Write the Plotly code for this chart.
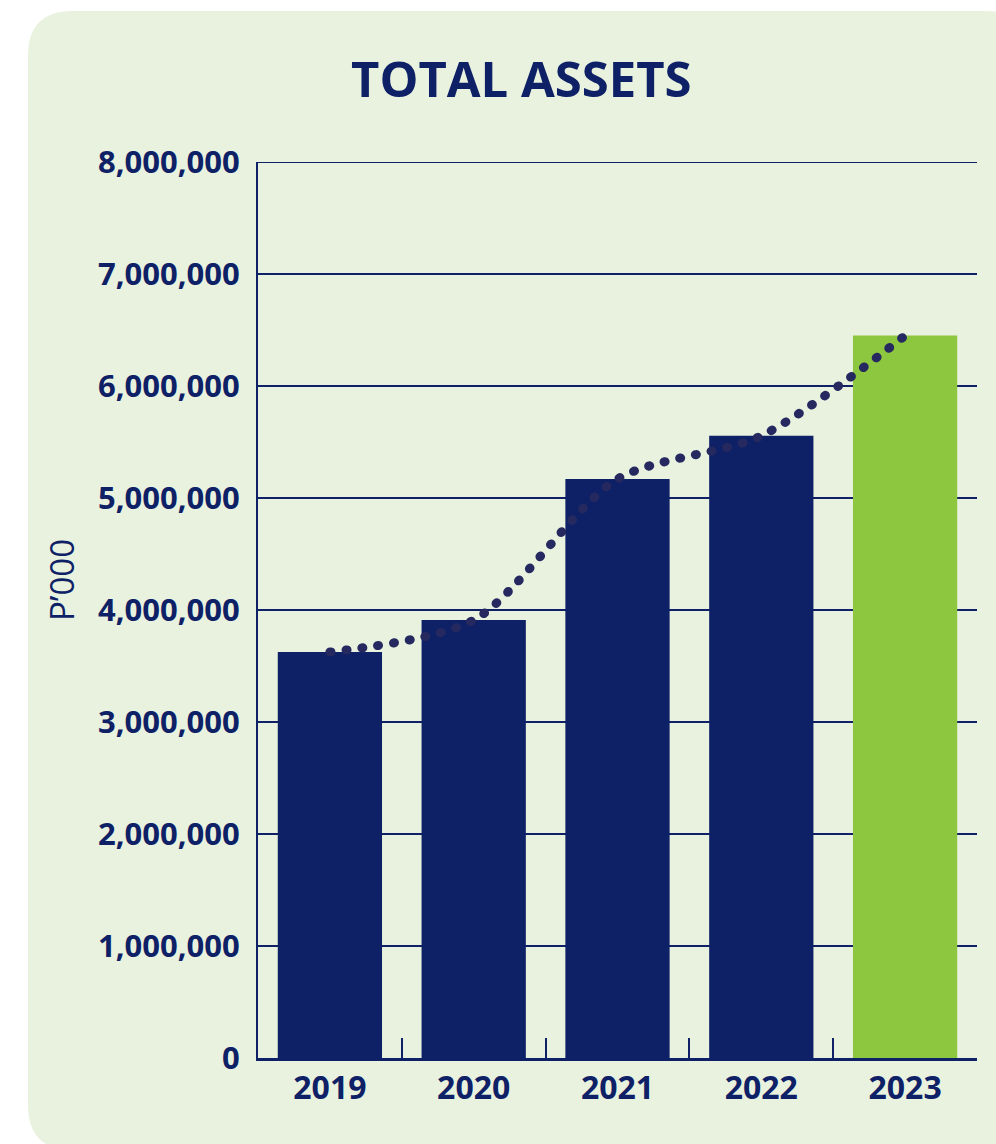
import plotly.graph_objects as go

years = ["2019", "2020", "2021", "2022", "2023"]
total_assets = [3625000, 3910000, 5170000, 5555000, 6450000]
bar_colors = ["#0E2166", "#0E2166", "#0E2166", "#0E2166", "#8DC63F"]
y_ticks = [0, 1000000, 2000000, 3000000, 4000000, 5000000, 6000000, 7000000, 8000000]

NAVY = "#0E2166"
FONT = "Open Sans"

W, H = 996, 1144
L, R, T, B = 258, 19, 162, 86
pw, ph = W - L - R, H - T - B

def px_x(p):
    return (p - L) / pw

def px_y(p):
    return (H - B - p) / ph

fig = go.Figure()
fig.add_trace(go.Bar(
    x=years, y=total_assets, marker=dict(color=bar_colors, line=dict(width=0)),
    hoverinfo="x+y", showlegend=False,
))
fig.add_trace(go.Scatter(
    x=years, y=total_assets, mode="lines",
    line=dict(color="#25295F", width=9, dash="1px,15px", shape="spline", smoothing=0.8),
    hoverinfo="skip", showlegend=False,
))

# rounded background panel
x0, x1 = px_x(28), px_x(1032)
y0, y1 = px_y(1150), px_y(11)
rx, ry = 45 / pw, 45 / ph
path = (f"M {x0+rx},{y1} L {x1-rx},{y1} Q {x1},{y1} {x1},{y1-ry} "
        f"L {x1},{y0} L {x0+rx},{y0} Q {x0},{y0} {x0},{y0+ry} "
        f"L {x0},{y1-ry} Q {x0},{y1} {x0+rx},{y1} Z")
fig.add_shape(type="path", path=path, xref="paper", yref="paper",
              fillcolor="#E9F2DF", line=dict(width=0), layer="below")
# top gridline at the end of the range
fig.add_shape(type="line", xref="paper", yref="y", x0=0, x1=1,
              y0=y_ticks[-1], y1=y_ticks[-1], line=dict(color=NAVY, width=2))

fig.add_annotation(text="<b>TOTAL ASSETS</b>", x=(521 - L) / pw, y=px_y(78),
                   xref="paper", yref="paper", showarrow=False,
                   xanchor="center", yanchor="middle",
                   font=dict(family=FONT, size=49, color=NAVY))
fig.add_annotation(text="P’000", x=px_x(61), y=px_y(580),
                   xref="paper", yref="paper", showarrow=False, textangle=-90,
                   xanchor="center", yanchor="middle",
                   font=dict(family=FONT, size=33, color=NAVY))

fig.update_layout(
    width=W, height=H,
    margin=dict(l=L, r=R, t=T, b=B, pad=0),
    paper_bgcolor="white", plot_bgcolor="rgba(0,0,0,0)",
    bargap=0.275,
    font=dict(family=FONT, color=NAVY),
)
fig.update_xaxes(
    type="category", showline=True, linecolor=NAVY, linewidth=3,
    ticks="inside", tickson="boundaries", ticklen=20, tickwidth=2, tickcolor=NAVY,
    showgrid=False, tickfont=dict(family=FONT, size=32, color=NAVY, weight="bold"),
    ticklabelstandoff=0,
)
fig.update_yaxes(
    range=[0, 8000000], tickvals=y_ticks, tickformat=",d",
    showline=True, linecolor=NAVY, linewidth=2,
    showgrid=True, gridcolor=NAVY, gridwidth=2, zeroline=False,
    ticks="", ticklabelstandoff=10,
    tickfont=dict(family=FONT, size=31, color=NAVY, weight="bold"),
)

post = """
document.body.style.margin='0';
document.querySelectorAll('.scatterlayer .js-line').forEach(function(p){
  p.style.strokeLinecap='round';
});
"""
fig.write_html("out.html", post_script=post, config={"displayModeBar": False})
